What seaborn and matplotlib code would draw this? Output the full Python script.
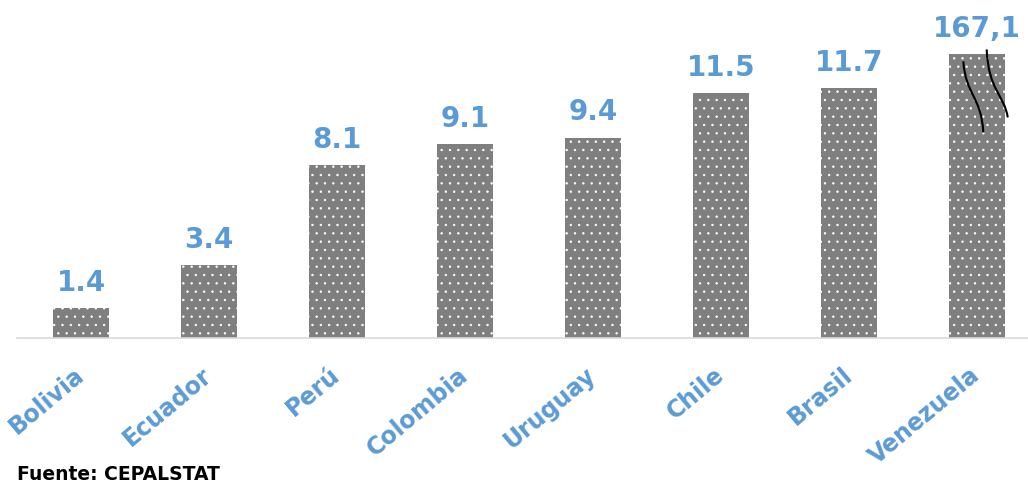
import matplotlib
matplotlib.use("Agg")
import matplotlib.pyplot as plt
import seaborn as sns
from matplotlib.path import Path
from matplotlib.patches import PathPatch

countries = ["Bolivia", "Ecuador", "Perú", "Colombia", "Uruguay", "Chile", "Brasil", "Venezuela"]
values = [1.4, 3.4, 8.1, 9.1, 9.4, 11.5, 11.7, 167.1]
value_labels = ["1.4", "3.4", "8.1", "9.1", "9.4", "11.5", "11.7", "167,1"]
axis_cap = 13.3  # out-of-scale bar is drawn broken at this height
source_text = "Fuente: CEPALSTAT"

heights = [min(v, axis_cap) for v in values]

sns.set_style("white")
plt.rcParams["font.family"] = ["DejaVu Sans"]
plt.rcParams["hatch.linewidth"] = 0.5

BLUE = "#5B9BD5"
GRAY = "#7F7F7F"

fig = plt.figure(figsize=(10.28, 4.84), dpi=100)
ax = fig.add_axes([17 / 1028, 146 / 484, 1024 / 1028, 337 / 484])

sns.barplot(x=countries, y=heights, color=GRAY, saturation=1, width=0.445, ax=ax)

for p in ax.patches:
    p.set_hatch("..")
    p.set_edgecolor("white")
    p.set_linewidth(0)

ax.set_xlim(-0.5, 7.5)
ax.set_ylim(0, 15.8)
for s in ["top", "right", "left"]:
    ax.spines[s].set_visible(False)
ax.spines["bottom"].set_color("#D9D9D9")
ax.spines["bottom"].set_linewidth(1.2)
ax.set_ylabel("")
ax.set_xlabel("")
ax.tick_params(left=False, labelleft=False, bottom=False, pad=21)
ax.set_xticks(range(len(countries)))
ax.set_xticklabels(countries, rotation=40, ha="right", va="center",
                   rotation_mode="anchor", color=BLUE, fontsize=17,
                   fontweight="bold")

ax.bar_label(ax.containers[0], labels=value_labels, padding=8,
             color=BLUE, fontsize=20, fontweight="bold")

# break marks on the capped bar
for i, v in enumerate(values):
    if v > axis_cap:
        p = ax.patches[i]
        x0, w, top = p.get_x(), p.get_width(), p.get_height()
        curves = [
            [(0.26, -0.33), (0.30, -1.9), (0.58, -2.0), (0.61, -3.66)],
            [(0.67, 0.23), (0.70, -1.7), (0.98, -1.9), (1.04, -2.96)],
        ]
        for c in curves:
            verts = [(x0 + fx * w, top + dy) for fx, dy in c]
            path = Path(verts, [Path.MOVETO, Path.CURVE4, Path.CURVE4, Path.CURVE4])
            ax.add_patch(PathPatch(path, facecolor="none", edgecolor="black",
                                   linewidth=1.5, clip_on=False))

fig.text(17 / 1028, 1 - 475 / 484, source_text, fontsize=13.5,
         fontweight="bold", color="black", va="center", ha="left",
         family=["DejaVu Sans"])

fig.savefig("out.png", dpi=100)
